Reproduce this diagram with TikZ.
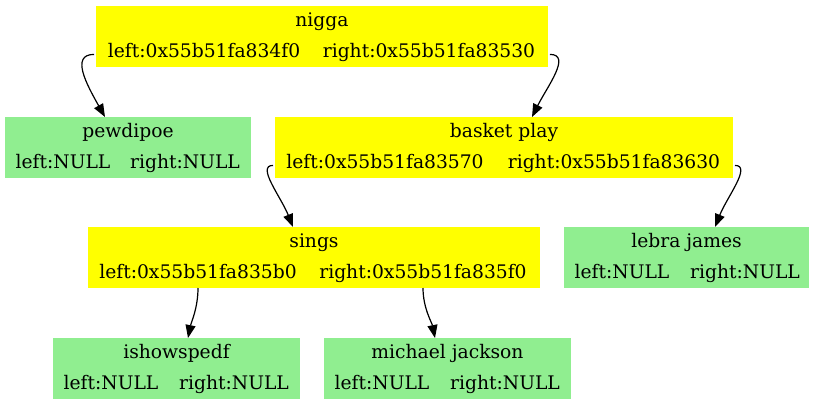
\documentclass[tikz,border=0pt]{standalone}
\usepackage{fontspec}
\setmainfont{DejaVu Serif}
\usetikzlibrary{arrows.meta}
\definecolor{nodeyellow}{HTML}{FFFF00}
\definecolor{leafgreen}{HTML}{90EE90}
\begin{document}
\begin{tikzpicture}[x=1pt,y=-1pt,
  box/.style={inner sep=0pt, outer sep=0pt, draw=none, minimum height=61pt},
  ybox/.style={box, fill=nodeyellow},
  gbox/.style={box, fill=leafgreen},
  lbl/.style={inner sep=0pt, outer sep=0pt, font=\fontsize{18.7}{22}\selectfont, anchor=base},
  link/.style={-{Triangle[length=13pt,width=10pt]}, line width=1.2pt}
]
\useasboundingbox (0,0) rectangle (816,405);
% boxes
\node[ybox, minimum width=452pt] (root) at (322,36.5) {};
\node[gbox, minimum width=246pt] (pew) at (128,147.5) {};
\node[ybox, minimum width=458pt] (bp) at (504,147.5) {};
\node[ybox, minimum width=452pt] (sings) at (314,257.5) {};
\node[gbox, minimum width=245pt] (lebra) at (686.5,257.5) {};
\node[gbox, minimum width=247pt] (ishow) at (176.5,368.5) {};
\node[gbox, minimum width=247pt] (mj) at (447.5,368.5) {};
% texts
\node[lbl] (rootT) at (322,26) {nigga};
\node[lbl] (rootL) at (204,57) {left:0x55b51fa834f0};
\node[lbl] (rootR) at (429,57) {right:0x55b51fa83530};
\node[lbl] (pewT) at (128,137) {pewdipoe};
\node[lbl] (pewL) at (63,168) {left:NULL};
\node[lbl] (pewR) at (185,168) {right:NULL};
\node[lbl] (bpT) at (504,137) {basket play};
\node[lbl] (bpL) at (385,168) {left:0x55b51fa83570};
\node[lbl] (bpR) at (614,168) {right:0x55b51fa83630};
\node[lbl] (singsT) at (314,247) {sings};
\node[lbl] (singsL) at (198,278) {left:0x55b51fa835b0};
\node[lbl] (singsR) at (423,278) {right:0x55b51fa835f0};
\node[lbl] (lebraT) at (686.5,247) {lebra james};
\node[lbl] (lebraL) at (622,278) {left:NULL};
\node[lbl] (lebraR) at (745,278) {right:NULL};
\node[lbl] (ishowT) at (176.5,358) {ishowspedf};
\node[lbl] (ishowL) at (111,389) {left:NULL};
\node[lbl] (ishowR) at (234,389) {right:NULL};
\node[lbl] (mjT) at (447.5,358) {michael jackson};
\node[lbl] (mjL) at (382,389) {left:NULL};
\node[lbl] (mjR) at (505,389) {right:NULL};
% edges
\draw[link] ([xshift=-2pt]root.west |- rootL.mid) .. controls +(-24,0) and +(-18,-32) .. ([xshift=-23pt]pew.north);
\draw[link] ([xshift=2pt]root.east |- rootR.mid) .. controls +(22,0) and +(15,-30) .. ([xshift=28pt]bp.north);
\draw[link] ([xshift=-2pt]bp.west |- bpL.mid) .. controls +(-17,0) and +(-12,-30) .. ([xshift=-21pt]sings.north);
\draw[link] ([xshift=2pt]bp.east |- bpR.mid) .. controls +(17,0) and +(12,-30) .. ([xshift=28.5pt]lebra.north);
\draw[link] (sings.south -| singsL) .. controls +(0,20) and +(3,-15) .. ([xshift=11.5pt]ishow.north);
\draw[link] (sings.south -| singsR) .. controls +(0,20) and +(-3,-15) .. ([xshift=-12.5pt]mj.north);
\end{tikzpicture}
\end{document}
